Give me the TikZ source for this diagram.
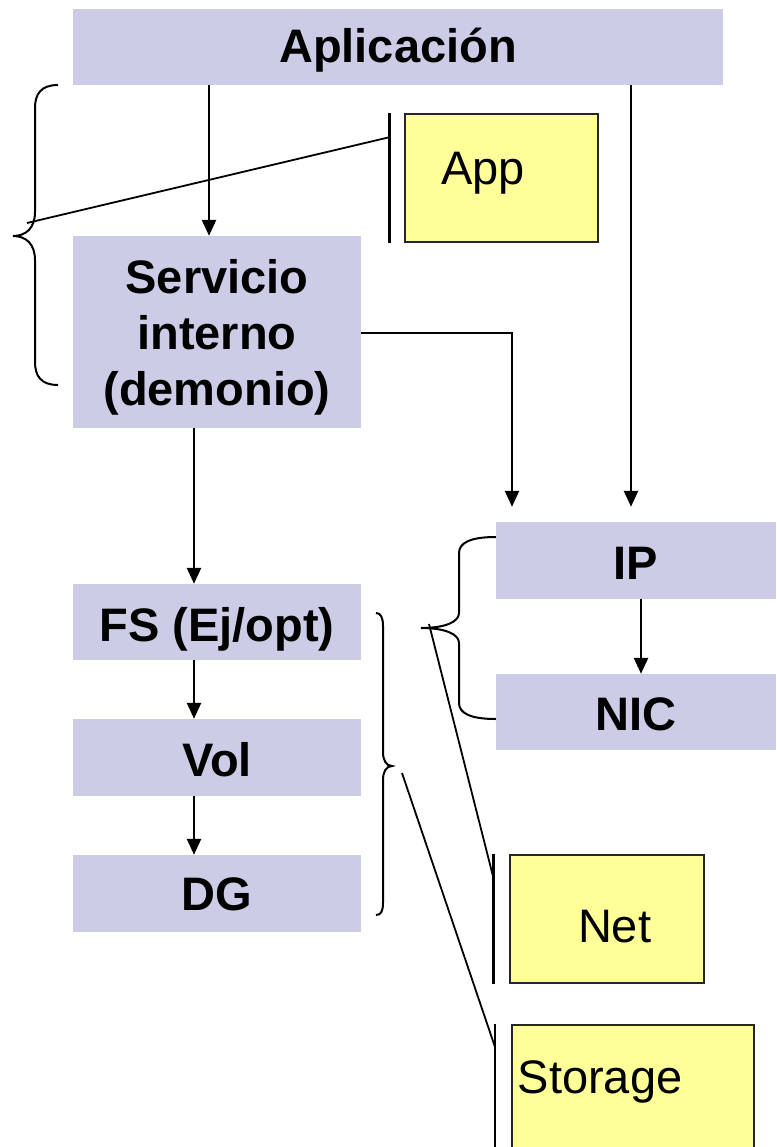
\documentclass[tikz,border=0pt]{standalone}
\usepackage{fontspec}
\setmainfont{Liberation Sans}
\usetikzlibrary{arrows.meta}
\definecolor{layer}{HTML}{CCCCE6}
\definecolor{note}{HTML}{FFFF99}
\begin{document}
\begin{tikzpicture}[x=1pt,y=-1pt,
  layerbox/.style={fill=layer, inner sep=0pt, align=center,
    font=\fontsize{47}{56}\selectfont\bfseries},
  notebox/.style={fill=note, draw=black!85, line width=1.5pt, inner sep=0pt,
    font=\fontsize{47}{56}\selectfont},
  % put the baseline #1 below the node centre
  textdrop/.style={text height=2*#1, text depth=0pt},
  flow/.style={-{Triangle[length=16pt,width=14pt]}, line width=2.5pt},
  bracket/.style={line width=2pt},
  pointer/.style={line width=1.8pt},
  bar/.style={line width=2.5pt}]
\useasboundingbox (0,0) rectangle (776,1147);

% protocol stack boxes
\node[layerbox, textdrop=16pt, minimum width=650pt, minimum height=76pt] (app) at (398,47) {Aplicación};
\node[layerbox, minimum width=288pt, minimum height=192pt] (serv) at (217,332)
  {\rule{0pt}{44pt}Servicio\\interno\\(demonio)};
\node[layerbox, textdrop=19.5pt, minimum width=288pt, minimum height=76pt] (fs) at (217,622) {FS (Ej/opt)};
\node[layerbox, textdrop=18.5pt, minimum width=288pt, minimum height=77pt] (vol) at (217,757.5) {Vol};
\node[layerbox, textdrop=17pt, minimum width=288pt, minimum height=77pt] (dg) at (217,893.5) {DG};
\node[layerbox, textdrop=18.5pt, minimum width=280pt, minimum height=77pt] (ip) at (636,560.5) {IP};
\node[layerbox, textdrop=18pt, minimum width=280pt, minimum height=76pt] (nic) at (636,712) {NIC};

% resource notes
\node[notebox, textdrop=7pt, minimum height=128pt, text width=121pt, inner xsep=36pt,
  align=left] (appnote) at (501.5,178) {App};
\node[notebox, textdrop=23pt, minimum height=128pt, text width=126pt, inner xsep=34pt,
  align=left] (netnote) at (607,919) {\hspace*{34pt}Net};
\node[notebox, anchor=north west, text width=230pt, inner xsep=6pt, inner ysep=0pt,
  align=left, text height=69pt, text depth=70pt] (stornote) at (511,1024) {Storage};

% data flow
\draw[flow] ([xshift=-189pt]app.south) -- ([xshift=-8pt]serv.north);
\draw[flow, shorten >=15pt] ([xshift=233pt]app.south) -- ([xshift=-5pt]ip.north);
\draw[flow, shorten >=15pt] ([yshift=-1pt]serv.east) -| ([xshift=-124pt]ip.north);
\draw[flow] ([xshift=-23pt]serv.south) -- ([xshift=-23pt]fs.north);
\draw[flow] ([xshift=-23pt]fs.south) -- ([xshift=-23pt]vol.north);
\draw[flow] ([xshift=-23pt]vol.south) -- ([xshift=-23pt]dg.north);
\draw[flow] ([xshift=5pt]ip.south) -- ([xshift=5pt]nic.north);

% grouping braces
\coordinate (apptip) at (13,236);
\draw[bracket] (58,85) .. controls (41,85) and (35,94) .. (35,108) -- (35,212)
  .. controls (35,228) and (26,236) .. (apptip)
  .. controls (26,236) and (35,244) .. (35,260) -- (35,362)
  .. controls (35,376) and (41,385) .. (58,385);

\coordinate (nettip) at (421,628);
\draw[bracket] (ip.west |- 0,537) .. controls (470,537) and (459,543) .. (459,553) -- (459,613)
  .. controls (459,622) and (445,628) .. (nettip)
  .. controls (445,628) and (459,634) .. (459,643) -- (459,703)
  .. controls (459,713) and (470,719) .. (nic.west |- 0,719);

\coordinate (stortip) at (392,766);
\draw[bracket] (376,613) .. controls (381,613) and (383,618) .. (383,626) -- (383,752)
  .. controls (383,760) and (386,766) .. (stortip)
  .. controls (386,766) and (383,772) .. (383,780) -- (383,903)
  .. controls (383,911) and (381,915) .. (376,915);

% callout pointers
\draw[bar] ([xshift=-15pt]appnote.north west) -- ([xshift=-15pt]appnote.south west);
\draw[pointer] ([xshift=-15pt,yshift=-24pt]appnote.north west) -- (27,223);
\draw[bar] ([xshift=-16pt]netnote.north west) -- ([xshift=-16pt]netnote.south west);
\draw[pointer] ([xshift=-16pt,yshift=-23pt]netnote.north west) -- (429,624);
\draw[bar] ([xshift=-16pt]stornote.north west) -- ([xshift=-16pt,yshift=-123pt]stornote.north west);
\draw[pointer] ([xshift=-16pt,yshift=-23pt]stornote.north west) -- (402,773);
\end{tikzpicture}
\end{document}
